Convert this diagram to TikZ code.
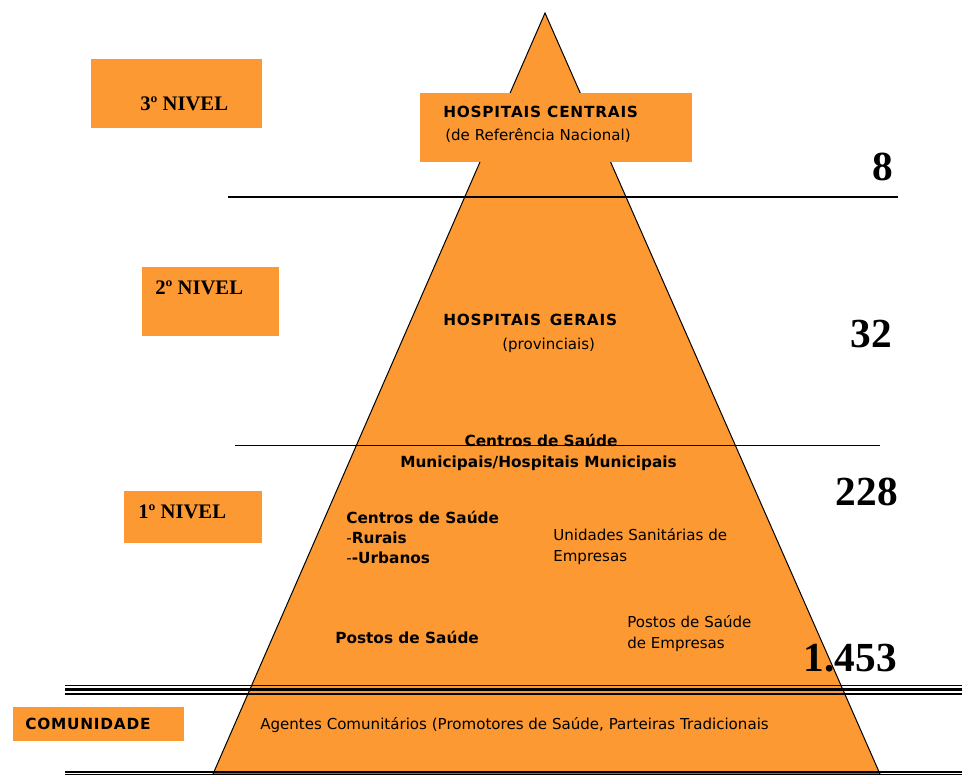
\documentclass[tikz,border=0pt]{standalone}
\usepackage{fontspec}
\setmainfont{Liberation Serif}
\setsansfont{DejaVu Sans}
\definecolor{pyrorange}{RGB}{253,153,51}
\tikzset{
  levelbox/.style={fill=pyrorange},
  niveltxt/.style={anchor=base west, inner sep=0pt, font=\rmfamily\bfseries\fontsize{15.5}{18}\selectfont},
  counttxt/.style={anchor=base east, inner sep=0pt, font=\rmfamily\bfseries\fontsize{31}{36}\selectfont},
  heavytxt/.style={anchor=base west, inner sep=0pt, font=\sffamily\bfseries\fontsize{11.5}{14}\selectfont},
  capstxt/.style={heavytxt, font=\sffamily\bfseries\fontsize{11.5}{14}\selectfont\addfontfeature{LetterSpace=5}},
  lighttxt/.style={anchor=base west, inner sep=0pt, font=\sffamily\fontsize{11.3}{14}\selectfont},
}

\begin{document}
\begin{tikzpicture}[x=0.75pt, y=-0.75pt]
			\useasboundingbox (0, 0) rectangle (962, 776);
			
			% pyramid
			\filldraw[fill=pyrorange, draw=black, line width=0.75pt] (545, 13) -- (880, 774) -- (213, 774) -- cycle;
			
			% level boxes
			\fill[levelbox] (91, 59) rectangle (262, 128);
			\fill[levelbox] (420, 93) rectangle (692, 162);
			\fill[levelbox] (142, 267) rectangle (279, 336);
			\fill[levelbox] (124, 491) rectangle (262, 543);
			\fill[levelbox] (13, 707) rectangle (184, 741);
			
			% separators
			\draw[line width=1.1pt] (228, 197) -- (898, 197);
			\draw[line width=0.75pt] (235, 445) -- (880, 445);
			
			\draw[line width=1pt] (65, 685.3) -- (962, 685.3);
			\draw[line width=1.8pt] (65, 689.6) -- (962, 689.6);
			\draw[line width=1pt] (65, 694) -- (962, 694);
			
			\draw[line width=1.5pt] (65, 771.8) -- (962, 771.8);
			\draw[line width=0.8pt] (65, 774.8) -- (962, 774.8);
			
			% levels
			\node[niveltxt] (nivel3) at (140, 110) {3º NIVEL};
			\node[niveltxt] (nivel2) at (155, 294) {2º NIVEL};
			\node[niveltxt] (nivel1) at (138, 518) {1º NIVEL};
			\node[capstxt] (comunidade) at (25, 729) {COMUNIDADE};
			
			% counts
			\node[counttxt] (n8) at (893, 180) {8};
			\node[counttxt] (n32) at (892, 347) {32};
			\node[counttxt] (n228) at (898, 505) {228};
			\node[counttxt] (n1453) at (897, 671) {1.453};
			
			% units
			\node[capstxt] (hcentrais) at (443, 117) {HOSPITAIS CENTRAIS};
			\node[lighttxt] (hcentraisb) at (445, 140) {(de Referência Nacional)};
			
			\node[capstxt] (hgerais) at (443, 325) {HOSPITAIS\, GERAIS};
			\node[lighttxt] (hgeraisb) at (502, 349) {(provinciais)};
			
			\node[heavytxt, anchor=base] (csmun) at (541, 446) {Centros de Saúde};
			\node[heavytxt] (csmunb) at (400, 467) {Municipais/Hospitais Municipais};
			
			\node[heavytxt] (cs) at (346, 523) {Centros de Saúde};
			\node[heavytxt] (csrur) at (346, 543) {\mdseries-\bfseries Rurais};
			\node[heavytxt] (csurb) at (346, 563) {\mdseries-\bfseries -Urbanos};
			
			\node[lighttxt] (use) at (553, 540) {Unidades Sanitárias de};
			\node[lighttxt] (useb) at (553, 561) {Empresas};
			
			\node[heavytxt] (ps) at (335, 643) {Postos de Saúde};
			\node[lighttxt] (pse) at (627, 627) {Postos de Saúde};
			\node[lighttxt] (pseb) at (627, 648) {de Empresas};
			
			\node[lighttxt] (agentes) at (260, 729) {Agentes Comunitários (Promotores de Saúde, Parteiras Tradicionais};
\end{tikzpicture}
\end{document}
